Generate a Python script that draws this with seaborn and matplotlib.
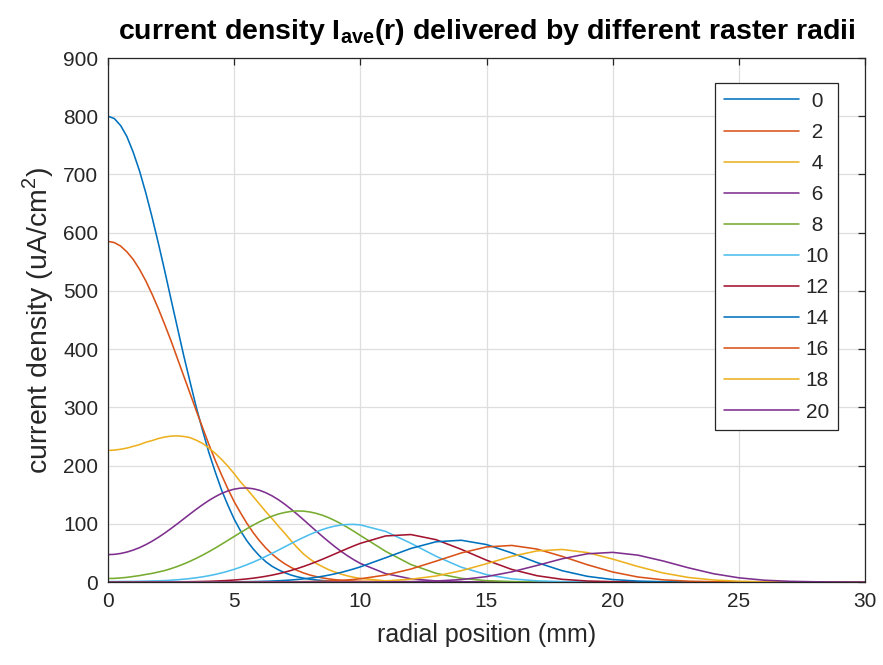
import matplotlib
matplotlib.use("Agg")
import matplotlib.pyplot as plt
from matplotlib.lines import Line2D
import pandas as pd
import seaborn as sns

# radial sample positions (mm): fine steps near the axis, 1 mm steps further out
radius_mm = [0, 0.25, 0.5, 0.75, 1, 1.25, 1.5, 1.75, 2, 2.25, 2.5, 2.75, 3, 3.25, 3.5, 3.75,
             4, 4.25, 4.5, 4.75, 5, 5.25, 5.5, 5.75, 6, 6.25, 6.5, 6.75, 7, 7.25, 7.5, 7.75,
             8, 8.25, 8.5, 8.75, 9, 9.25, 9.5, 9.75, 10,
             11, 12, 13, 14, 15, 16, 17, 18, 19, 20, 21, 22, 23, 24, 25, 26, 27, 28, 29, 30]

# raster radii shown in the legend
raster_radii = ["0", "2", "4", "6", "8", "10", "12", "14", "16", "18", "20"]

# averaged current density (uA/cm^2) for each raster radius
density_r0 = [800, 796, 784, 765, 738, 706, 668, 626, 581, 534, 485, 437, 389, 344, 300, 260,
              222, 189, 158, 132, 108, 88, 71, 57, 45, 35, 27, 21, 16, 12, 8.9, 6.6,
              4.8, 3.5, 2.5, 1.8, 1.2, 0.85, 0.6, 0.4, 0.3,
              0.05, 0, 0, 0, 0, 0, 0, 0, 0, 0, 0, 0, 0, 0, 0, 0, 0, 0, 0, 0]
density_r2 = [585, 583, 577, 567, 554, 537, 517, 494, 469, 442, 414, 384, 354, 324, 294, 265,
              236, 209, 184, 160, 138, 119, 101, 85, 71, 58.6, 48, 39, 31.4, 25.1, 19.8, 15.5,
              12, 9.3, 7.0, 5.3, 4.0, 2.9, 2.2, 1.6, 1.1,
              0.3, 0.1, 0, 0, 0, 0, 0, 0, 0, 0, 0, 0, 0, 0, 0, 0, 0, 0, 0, 0]
density_r4 = [226, 226.5, 228, 230, 233, 236, 240, 243, 246.5, 249, 250.6, 251, 250, 248, 243.5, 238,
              230, 221, 210.5, 199, 186, 172, 160, 147, 134, 121, 109, 96, 84, 71, 59, 48,
              39.5, 32, 26.3, 21, 17, 13.3, 10.4, 8.0, 6.2,
              1.9, 0.5, 0.1, 0, 0, 0, 0, 0, 0, 0, 0, 0, 0, 0, 0, 0, 0, 0, 0, 0]
density_r6 = [47, 47.5, 49, 51.4, 54.8, 59, 64.2, 70.1, 76.8, 84.1, 91.9, 100, 108.4, 116.8, 125, 132.8,
              140.1, 146.5, 152.1, 156.4, 159.5, 161.2, 161.5, 160.2, 157.6, 153.4, 148, 141.4, 133.8, 125.3, 116.3, 106.9,
              97.2, 87.6, 78.2, 69.1, 60.4, 52.2, 44.8, 38, 31.9,
              14.4, 5.5, 1.8, 0.5, 0.1, 0, 0, 0, 0, 0, 0, 0, 0, 0, 0, 0, 0, 0, 0, 0]
density_r8 = [6, 6.2, 7, 8, 9.5, 11, 13, 14.8, 17.2, 19.7, 23, 26.7, 30.9, 35.6, 40.7, 46.2,
              52.1, 58.3, 64.8, 71.5, 78.2, 84.9, 91.4, 97.6, 103.3, 108.5, 113, 116.7, 119.4, 121.2, 122, 121.7,
              120.3, 117.9, 114.6, 110.4, 105.3, 99.7, 93.5, 86.9, 80,
              52.7, 30.1, 14.9, 6.3, 2.3, 0.75, 0.2, 0.05, 0, 0, 0, 0, 0, 0, 0, 0, 0, 0, 0, 0]
density_r10 = [0.8, 0.8, 0.9, 1.0, 1.1, 1.3, 1.5, 1.8, 2.0, 2.43, 3.06, 3.83, 4.78, 5.92, 7.29, 8.91,
               10.8, 13.05, 15.6, 18.5, 21.8, 25.5, 29.6, 34.0, 38.8, 43.9, 49.2, 54.7, 60.3, 65.9, 71.4, 76.6,
               81.6, 86.1, 90.1, 93.5, 96.1, 97.9, 98.8, 98.9, 98.1,
               86.9, 66.6, 44.2, 25.4, 12.6, 5.4, 2.0, 0.64, 0.18, 0, 0, 0, 0, 0, 0, 0, 0, 0, 0, 0]
density_r12 = [0, 0, 0, 0, 0, 0.02, 0.04, 0.07, 0.12, 0.17, 0.23, 0.3, 0.41, 0.54, 0.72, 0.95,
               1.24, 1.61, 2.08, 2.65, 3.37, 4.24, 5.29, 6.55, 8.04, 9.79, 11.8, 14.15, 16.8, 19.77, 23.1, 26.67,
               30.6, 34.75, 39.1, 43.7, 48.4, 53.07, 57.7, 62.2, 66.4,
               79.1, 81.5, 72.7, 56.1, 37.5, 21.6, 10.8, 4.6, 1.7, 0.56, 0.15, 0, 0, 0, 0, 0, 0, 0, 0, 0]
density_r14 = [0, 0, 0, 0, 0, 0, 0, 0, 0, 0, 0, 0, 0, 0, 0.03, 0.05,
               0.08, 0.115, 0.16, 0.22, 0.3, 0.41, 0.55, 0.73, 0.96, 1.26, 1.64, 2.12, 2.7, 3.42, 4.3, 5.36,
               6.62, 8.09, 9.82, 11.8, 14.1, 16.6, 19.5, 22.6, 26.0,
               41.6, 57.6, 69.1, 71.7, 64.3, 49.9, 33.4, 19.4, 9.7, 4.2, 1.56, 0.5, 0.14, 0, 0, 0, 0, 0, 0, 0]
density_r16 = [0, 0, 0, 0, 0, 0, 0, 0, 0, 0, 0, 0, 0, 0, 0, 0,
               0, 0, 0, 0, 0, 0, 0.03, 0.05, 0.06, 0.09, 0.12, 0.17, 0.24, 0.32, 0.44, 0.59,
               0.78, 1.03, 1.34, 1.74, 2.23, 2.84, 3.58, 4.47, 5.54,
               11.9, 22.2, 35.8, 49.9, 60.2, 62.8, 56.6, 44.0, 29.6, 17.2, 8.6, 3.7, 1.4, 0.45, 0.13, 0, 0, 0, 0, 0]
density_r18 = [0, 0, 0, 0, 0, 0, 0, 0, 0, 0, 0, 0, 0, 0, 0, 0,
               0, 0, 0, 0, 0, 0, 0, 0, 0, 0, 0, 0, 0, 0, 0.02, 0.03,
               0.05, 0.07, 0.1, 0.14, 0.2, 0.27, 0.37, 0.49, 0.66,
               1.9, 4.8, 10.3, 19.4, 31.4, 44.1, 53.4, 55.9, 50.5, 39.4, 26.6, 15.5, 7.8, 3.4, 1.3, 0.4, 0.1, 0, 0, 0]
density_r20 = [0, 0, 0, 0, 0, 0, 0, 0, 0, 0, 0, 0, 0, 0, 0, 0,
               0, 0, 0, 0, 0, 0, 0, 0, 0, 0, 0, 0, 0, 0, 0, 0,
               0, 0, 0, 0, 0, 0, 0.02, 0.03, 0.04,
               0.17, 0.58, 1.7, 4.2, 9.2, 17.4, 28.4, 39.9, 48.5, 50.9, 46.1, 36.1, 24.4, 14.2, 7.2, 3.1, 1.2, 0.38, 0.1, 0]

line_colors = ["#0072BD", "#D95319", "#EDB120", "#7E2F8E", "#77AC30", "#4DBEEE",
               "#A2142F", "#0072BD", "#D95319", "#EDB120", "#7E2F8E"]

series = [density_r0, density_r2, density_r4, density_r6, density_r8, density_r10,
          density_r12, density_r14, density_r16, density_r18, density_r20]

frames = []
for name, values in zip(raster_radii, series):
    assert len(values) == len(radius_mm), (name, len(values))
    frames.append(pd.DataFrame({"radius": radius_mm, "density": values, "raster": name}))
df = pd.concat(frames, ignore_index=True)

sns.set_style("white")
plt.rcParams["font.family"] = ["Liberation Sans", "DejaVu Sans"]
plt.rcParams["mathtext.fontset"] = "custom"
plt.rcParams["mathtext.rm"] = "Liberation Sans"
plt.rcParams["mathtext.bf"] = "Liberation Sans:bold"

ink = "#262626"
W, H = 883, 665
fig = plt.figure(figsize=(W / 100, H / 100), dpi=100)
ax = fig.add_axes([108 / W, 1 - 582 / H, 757 / W, 524 / H])

sns.lineplot(data=df, x="radius", y="density", hue="raster", hue_order=raster_radii,
             palette=line_colors, linewidth=1.15, estimator=None, legend=False, ax=ax)

ax.set_xlim(0, 30)
ax.set_ylim(0, 900)
ax.set_xticks(range(0, 31, 5))
ax.set_yticks(range(0, 901, 100))
ax.grid(True, color="#dedede", linewidth=0.9)
ax.set_axisbelow(True)
for sp in ax.spines.values():
    sp.set_color(ink)
    sp.set_linewidth(0.9)
ax.tick_params(direction="in", top=True, right=True, length=5, width=0.9,
               color=ink, labelcolor=ink, labelsize=15, pad=7)

ax.set_xlabel("radial position (mm)", fontsize=18, color=ink, labelpad=9)
ax.set_ylabel(r"current density (uA/cm$^{\mathrm{2}}$)", fontsize=20.5, color=ink, labelpad=5)
ax.set_title(r"current density I$_{\mathbf{ave}}$(r) delivered by different raster radii",
             fontsize=20.5, fontweight="bold", color="black", pad=14)

handles = [Line2D([0], [0], color=c, linewidth=1.15) for c in line_colors]
labels = [(" " + r) if len(r) == 1 else r for r in raster_radii]
leg = ax.legend(handles, labels, loc="upper right", bbox_to_anchor=(0.9643, 0.9523),
                borderaxespad=0, frameon=True, fancybox=False, framealpha=1,
                edgecolor=ink, fontsize=15, handlelength=3.6, handletextpad=0.34,
                labelspacing=0.58, borderpad=0.42)
leg.get_frame().set_linewidth(0.9)

fig.savefig("out.png", dpi=100)
